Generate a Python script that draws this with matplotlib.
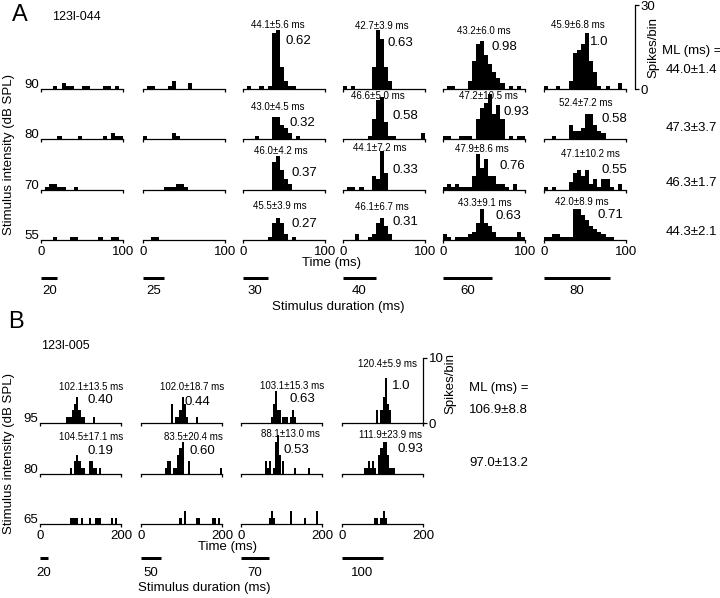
"""PSTH grid: latency vs stimulus duration and intensity (units 123l-044, 123l-005)."""
import numpy as np
import matplotlib
matplotlib.use("Agg")
import matplotlib.pyplot as plt

plt.rcParams["font.family"] = ["Liberation Sans", "DejaVu Sans"]

W, H = 720, 598
PT = 0.72  # points per pixel at dpi 100

# ============================================================================
# Panel A data: unit 123l-044, 5-ms bins over 0-100 ms (spikes/bin)
# ============================================================================
A_levels = [90, 80, 70, 55]
A_durations = [20, 25, 30, 40, 60, 80]
A_bin = 5

A_d20 = [
    [0, 0, 0, 1, 0, 2, 1, 1, 0, 0, 1, 1, 0, 0, 0, 1, 1, 0, 1, 0],
    [0, 0, 0, 0, 1, 0, 0, 0, 0, 1, 0, 0, 0, 0, 0, 1, 0, 2, 1, 1],
    [0, 1, 2, 2, 1, 1, 0, 0, 1, 0, 0, 0, 0, 0, 0, 0, 0, 0, 0, 0],
    [0, 0, 0, 1, 0, 0, 0, 1, 1, 0, 0, 0, 0, 0, 1, 0, 0, 1, 1, 0],
]
A_d25 = [
    [0, 1, 1, 0, 0, 0, 1, 3, 0, 0, 0, 2, 0, 0, 0, 0, 0, 0, 0, 0],
    [1, 0, 0, 0, 0, 0, 0, 2, 1, 0, 0, 0, 0, 0, 0, 0, 0, 0, 0, 0],
    [0, 0, 0, 0, 0, 1, 1, 1, 2, 2, 1, 0, 0, 0, 0, 0, 0, 0, 0, 0],
    [0, 0, 1, 1, 0, 0, 0, 0, 0, 0, 0, 0, 0, 0, 0, 0, 0, 0, 0, 0],
]
A_d30 = [
    [0, 1, 0, 0, 1, 0, 1, 20, 21, 8, 3, 1, 1, 0, 0, 0, 0, 0, 0, 0],
    [0, 0, 0, 1, 0, 0, 0, 8, 8, 5, 4, 2, 0, 1, 0, 0, 0, 0, 0, 0],
    [0, 0, 0, 0, 0, 0, 0, 10, 12, 7, 4, 2, 0, 0, 0, 0, 0, 0, 0, 0],
    [0, 0, 0, 0, 0, 0, 1, 6, 8, 6, 2, 0, 1, 0, 0, 0, 0, 0, 0, 0],
]
A_d40 = [
    [1, 0, 1, 0, 0, 0, 0, 8, 21, 18, 8, 3, 0, 0, 0, 0, 0, 0, 0, 0],
    [0, 0, 0, 0, 0, 0, 1, 7, 14, 15, 6, 1, 1, 0, 0, 0, 0, 0, 0, 2],
    [0, 1, 1, 0, 1, 0, 0, 5, 4, 14, 6, 0, 0, 0, 0, 0, 0, 0, 0, 0],
    [0, 0, 0, 2, 0, 0, 1, 2, 6, 8, 5, 2, 0, 0, 0, 0, 0, 0, 0, 0],
]
A_d60 = [
    [0, 1, 1, 0, 0, 0, 3, 10, 16, 17, 12, 9, 6, 4, 2, 0, 1, 0, 1, 0],
    [1, 1, 0, 0, 1, 1, 1, 0, 7, 11, 13, 16, 9, 12, 7, 0, 1, 0, 1, 1],
    [1, 2, 1, 2, 1, 1, 1, 5, 13, 8, 11, 5, 5, 2, 2, 1, 0, 2, 0, 0],
    [2, 1, 0, 1, 1, 1, 2, 3, 6, 11, 6, 5, 3, 1, 1, 1, 1, 1, 3, 1],
]
A_d80 = [
    [1, 0, 0, 1, 0, 0, 3, 13, 14, 16, 20, 10, 6, 1, 0, 1, 0, 0, 2, 0],
    [0, 0, 1, 0, 0, 0, 5, 3, 3, 4, 9, 9, 5, 3, 2, 0, 0, 0, 0, 0],
    [1, 0, 1, 0, 0, 0, 3, 6, 7, 5, 7, 2, 4, 1, 4, 4, 1, 0, 2, 0],
    [1, 1, 2, 2, 1, 1, 1, 11, 11, 9, 7, 5, 4, 3, 2, 1, 1, 0, 0, 0],
]
A_hists = [A_d20, A_d25, A_d30, A_d40, A_d60, A_d80]

# first-spike latency (mean±SD) and normalised response, per duration
A_lat = {
    30: ["44.1±5.6", "43.0±4.5", "46.0±4.2", "45.5±3.9"],
    40: ["42.7±3.9", "46.6±5.0", "44.1±7.2", "46.1±6.7"],
    60: ["43.2±6.0", "47.2±10.5", "47.9±8.6", "43.3±9.1"],
    80: ["45.9±6.8", "52.4±7.2", "47.1±10.2", "42.0±8.9"],
}
A_ratio = {
    30: ["0.62", "0.32", "0.37", "0.27"],
    40: ["0.63", "0.58", "0.33", "0.31"],
    60: ["0.98", "0.93", "0.76", "0.63"],
    80: ["1.0", "0.58", "0.55", "0.71"],
}
A_ML = ["44.0±1.4", "47.3±3.7", "46.3±1.7", "44.3±2.1"]

# ============================================================================
# Panel B data: unit 123l-005, 5-ms bins over 0-200 ms
# ============================================================================
B_levels = [95, 80, 65]
B_durations = [20, 50, 70, 100]
B_bin = 5

B_d20 = [
    [0, 0, 0, 0, 0, 0, 0, 0, 0, 0, 0, 0, 0, 1, 1, 1, 2, 3, 4, 2, 1, 1, 0, 0, 0, 0, 1, 0, 0, 0, 0, 0, 0, 0, 0, 0, 0, 0, 0, 0],
    [0, 0, 0, 0, 0, 0, 0, 0, 0, 0, 0, 0, 0, 0, 0, 1, 0, 2, 3, 2, 1, 1, 0, 0, 2, 2, 1, 1, 0, 1, 0, 0, 0, 0, 0, 0, 0, 0, 0, 0],
    [0, 0, 0, 0, 0, 0, 0, 0, 0, 0, 0, 0, 0, 0, 0, 1, 1, 1, 1, 0, 1, 0, 0, 0, 1, 0, 0, 1, 1, 1, 0, 0, 0, 0, 0, 1, 0, 1, 0, 0],
]
B_d50 = [
    [0, 0, 0, 0, 0, 0, 0, 0, 0, 0, 0, 0, 0, 0, 0, 3, 0, 1, 1, 2, 4, 3, 1, 0, 0, 0, 0, 1, 0, 0, 0, 0, 0, 0, 0, 0, 0, 0, 0, 0],
    [0, 0, 0, 0, 0, 0, 0, 0, 0, 0, 0, 0, 1, 2, 2, 0, 1, 1, 3, 4, 5, 0, 0, 2, 0, 0, 0, 0, 0, 0, 0, 0, 0, 0, 0, 0, 0, 0, 0, 1],
    [0, 0, 0, 0, 0, 0, 0, 0, 0, 0, 0, 0, 0, 0, 0, 0, 0, 0, 0, 1, 0, 2, 0, 0, 0, 0, 0, 1, 1, 0, 0, 0, 0, 0, 0, 1, 1, 0, 1, 0],
]
B_d70 = [
    [0, 0, 0, 0, 0, 0, 0, 0, 0, 0, 0, 0, 0, 0, 0, 1, 3, 5, 2, 2, 1, 1, 1, 0, 1, 2, 1, 0, 0, 0, 0, 0, 0, 0, 0, 0, 0, 0, 0, 0],
    [0, 0, 0, 0, 0, 0, 0, 0, 0, 0, 0, 0, 2, 1, 2, 0, 1, 5, 6, 3, 2, 0, 0, 0, 0, 0, 1, 0, 0, 0, 0, 0, 0, 1, 0, 0, 0, 0, 0, 0],
    [0, 0, 0, 0, 0, 0, 0, 0, 0, 0, 0, 0, 0, 0, 1, 2, 1, 0, 0, 0, 0, 0, 0, 0, 2, 0, 0, 0, 0, 0, 0, 1, 0, 0, 0, 0, 0, 2, 0, 0],
]
B_d100 = [
    [0, 0, 0, 0, 0, 0, 0, 0, 0, 0, 0, 0, 0, 0, 0, 0, 0, 2, 0, 2, 4, 7, 3, 2, 0, 0, 0, 0, 0, 0, 0, 0, 0, 0, 0, 0, 0, 0, 0, 0],
    [0, 0, 0, 0, 0, 0, 0, 0, 0, 0, 0, 1, 1, 2, 1, 2, 1, 0, 3, 4, 5, 5, 3, 1, 1, 1, 0, 0, 0, 0, 0, 0, 0, 0, 0, 0, 0, 0, 0, 0],
    [0, 0, 0, 0, 0, 0, 0, 0, 0, 0, 0, 0, 0, 0, 0, 0, 1, 1, 0, 1, 2, 1, 0, 0, 0, 0, 0, 0, 0, 0, 0, 0, 0, 0, 0, 0, 0, 0, 0, 0],
]
B_hists = [B_d20, B_d50, B_d70, B_d100]

B_lat = {
    20: ["102.1±13.5", "104.5±17.1"],
    50: ["102.0±18.7", "83.5±20.4"],
    70: ["103.1±15.3", "88.1±13.0"],
    100: ["120.4±5.9", "111.9±23.9"],
}
B_ratio = {
    20: ["0.40", "0.19"],
    50: ["0.44", "0.60"],
    70: ["0.63", "0.53"],
    100: ["1.0", "0.93"],
}
B_ML = ["106.9±8.8", "97.0±13.2"]

# Label placement (pixels from the figure's top-left): latency centre x, y; ratio left x, y
A_text_pos = {
    30: [(278, 25, 285, 41), (278, 107, 290, 123), (281, 151, 291, 173), (280, 206, 291, 224)],
    40: [(382, 26, 388, 43), (378, 96, 393, 116), (380, 148, 393, 170), (382, 207, 393, 222)],
    60: [(484, 31, 491, 47), (488, 96, 503, 112), (482, 149, 499, 166), (485, 203, 496, 216)],
    80: [(578, 25, 590, 42), (586, 103, 602, 119), (590, 154, 601, 170), (582, 202, 597, 215)],
}
B_text_pos = {
    20: [(91, 387, 87, 400), (91, 437, 88, 451)],
    50: [(192, 387, 185, 402), (193, 437, 189, 451)],
    70: [(292, 386, 290, 399), (290, 434, 284, 450)],
    100: [(388, 364, 392, 386), (391, 435, 398, 449)],
}

fig = plt.figure(figsize=(W / 100, H / 100), dpi=100)


def px_axes(x0, y_base, w, h):
    """Axes placed in pixel units; y_base is the baseline measured from the top."""
    ax = fig.add_axes([x0 / W, 1 - y_base / H, w / W, h / H])
    ax.patch.set_visible(False)
    return ax


def ftext(x, y, s, **kw):
    fig.text(x / W, 1 - y / H, s, **kw)


def draw_panel(hists, levels, durations, lat, ratio, text_pos, tmax, binw, ymax,
               col_x, row_y, col_w, px_per_spike, last_row):
    h_px = ymax * px_per_spike
    for c, dur in enumerate(durations):
        for r, lev in enumerate(levels):
            counts = np.array(hists[c][r])
            edges = np.arange(len(counts)) * binw
            ax = px_axes(col_x[c], row_y[r], col_w, h_px)
            ax.bar(edges, counts, width=binw, align="edge", color="black", linewidth=0)
            ax.set_xlim(0, tmax)
            ax.set_ylim(0, ymax)
            for s in ["top", "right", "left"]:
                ax.spines[s].set_visible(False)
            ax.spines["bottom"].set_linewidth(0.9)
            ax.set_yticks([])
            ax.set_xticks([0, tmax])
            ax.tick_params(axis="x", length=2, width=0.9, pad=2, labelsize=9.5)
            if r != last_row:
                ax.set_xticklabels([])
            else:
                ax.set_xticklabels(["0", str(tmax)])
            if c == 0:
                ftext(col_x[0] - 2, row_y[r] - 4, str(lev), ha="right", va="center", fontsize=9.5)
            if dur in lat and r < len(lat[dur]):
                lx, ly, vx, vy = text_pos[dur][r]
                ftext(lx, ly, lat[dur][r] + " ms", ha="center", va="center", fontsize=7)
                ftext(vx, vy, ratio[dur][r], ha="left", va="center", fontsize=9.5)


def draw_durations(durations, tmax, col_x, col_w, y_bar, y_lab):
    for c, dur in enumerate(durations):
        ax = px_axes(col_x[c], y_bar + 3, col_w, 6)
        ax.plot([0, dur], [0, 0], color="black", lw=3 * PT, solid_capstyle="butt")
        ax.set_xlim(0, tmax)
        ax.set_ylim(-1, 1)
        ax.axis("off")
        ax.annotate(str(dur), xy=(dur / 2, 0), xytext=(0, -(y_lab - y_bar) * PT),
                    textcoords="offset points", ha="center", va="center", fontsize=9.5)


def scale_bar(x, y_base, h, ymax, tick, lab_x, lab_y):
    ax = px_axes(x - 5, y_base, 5, h)
    ax.set_ylim(0, ymax)
    ax.set_xticks([])
    for s in ["top", "left", "bottom"]:
        ax.spines[s].set_visible(False)
    ax.spines["right"].set_bounds(0, tick)
    ax.spines["right"].set_linewidth(0.9)
    ax.yaxis.tick_right()
    ax.set_yticks([0, tick])
    ax.tick_params(axis="y", direction="out", length=3, width=0.9, pad=1, labelsize=9.5)
    ftext(lab_x, lab_y, "Spikes/bin", rotation=90, ha="center", va="center", fontsize=9.5)


# ---------------------------------------------------------------- panel A
A_col_x = [41, 143, 243, 343, 443, 544]
A_row_y = [89, 139, 190, 240]
draw_panel(A_hists, A_levels, A_durations, A_lat, A_ratio, A_text_pos, 100, A_bin, 30,
           A_col_x, A_row_y, 82, 2.8, 3)
draw_durations(A_durations, 100, A_col_x, 82, 278, 291)
scale_bar(635, 89, 84, 30, 30, 653, 47)

ftext(20, 15, "A", fontsize=17, ha="center", va="center")
ftext(52, 17, "123l-044", fontsize=9, ha="left", va="center")
ftext(9, 154, "Stimulus intensity (dB SPL)", rotation=90, fontsize=9.5, ha="center", va="center")
ftext(332, 263, "Time (ms)", fontsize=9.5, ha="center", va="center")
ftext(338, 307, "Stimulus duration (ms)", fontsize=9.5, ha="center", va="center")
ftext(662, 51, "ML (ms) =", fontsize=9.5, ha="left", va="center")
for v, y in zip(A_ML, [70, 128, 183, 232]):
    ftext(717, y, v, fontsize=9.5, ha="right", va="center")

# ---------------------------------------------------------------- panel B
B_col_x = [40, 141, 241, 342]
B_row_y = [423, 474, 524]
draw_panel(B_hists, B_levels, B_durations, B_lat, B_ratio, B_text_pos, 200, B_bin, 10,
           B_col_x, B_row_y, 81, 6.5, 2)
draw_durations(B_durations, 200, B_col_x, 81, 558, 573)
scale_bar(423, 423, 65, 10, 10, 450, 384)

ftext(16, 322, "B", fontsize=17, ha="center", va="center")
ftext(41, 346, "123l-005", fontsize=9, ha="left", va="center")
ftext(9, 453, "Stimulus intensity (dB SPL)", rotation=90, fontsize=9.5, ha="center", va="center")
ftext(228, 547, "Time (ms)", fontsize=9.5, ha="center", va="center")
ftext(204, 588, "Stimulus duration (ms)", fontsize=9.5, ha="center", va="center")
ftext(469, 388, "ML (ms) =", fontsize=9.5, ha="left", va="center")
for v, y in zip(B_ML, [410, 463]):
    ftext(469, y, v, fontsize=9.5, ha="left", va="center")

fig.savefig("out.png", dpi=100)
print("Saved out.png")
